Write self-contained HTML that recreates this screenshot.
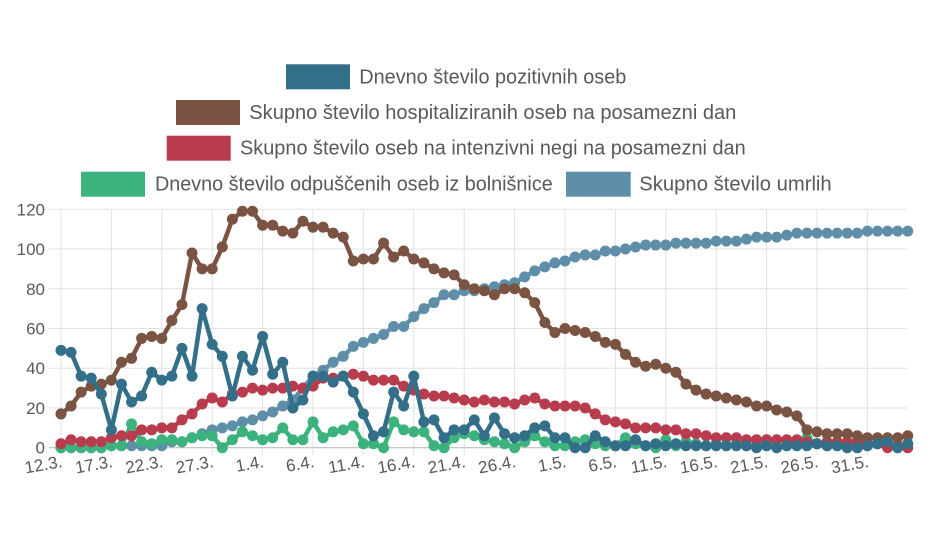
<!DOCTYPE html>
<html>
<head>
<meta charset="utf-8">
<style>
html,body{margin:0;padding:0;background:#fff;}
svg{display:block;}
text{font-family:"Liberation Sans",Arial,sans-serif;fill:#595959;}
.ln{fill:none;stroke-width:4.5;stroke-linejoin:round;stroke-linecap:round;vector-effect:non-scaling-stroke;}
.dt{fill:none;stroke-width:11;stroke-linecap:round;vector-effect:non-scaling-stroke;}
</style>
</head>
<body>
<svg width="940" height="533" viewBox="0 0 940 533" xmlns="http://www.w3.org/2000/svg">
<rect width="940" height="533" fill="#fff"/>

<!-- Legend -->
<rect x="286" y="64.3" width="64" height="25" fill="#346f8a"/>
<text x="359.3" y="83.3" font-size="20" textLength="267" lengthAdjust="spacingAndGlyphs">Dnevno število pozitivnih oseb</text>
<rect x="176" y="100" width="64" height="25" fill="#7b5343"/>
<text x="249.3" y="119.2" font-size="20" textLength="487" lengthAdjust="spacingAndGlyphs">Skupno število hospitaliziranih oseb na posamezni dan</text>
<rect x="166.7" y="135.7" width="64" height="25" fill="#b83c4d"/>
<text x="240" y="154.6" font-size="20" textLength="505.7" lengthAdjust="spacingAndGlyphs">Skupno število oseb na intenzivni negi na posamezni dan</text>
<rect x="81" y="171.7" width="64" height="25" fill="#3cb37c"/>
<text x="155" y="190.3" font-size="20" textLength="397.7" lengthAdjust="spacingAndGlyphs">Dnevno število odpuščenih oseb iz bolnišnice</text>
<rect x="566" y="171.7" width="64.7" height="25" fill="#5e8ea8"/>
<text x="639.3" y="190.3" font-size="20" textLength="192.4" lengthAdjust="spacingAndGlyphs">Skupno število umrlih</text>

<!-- Horizontal grid -->
<g stroke="#e2e2e2" stroke-width="1">
<line x1="49" y1="209.3" x2="907" y2="209.3"/>
<line x1="49" y1="249" x2="907" y2="249"/>
<line x1="49" y1="288.8" x2="907" y2="288.8"/>
<line x1="49" y1="328.5" x2="907" y2="328.5"/>
<line x1="49" y1="368.2" x2="907" y2="368.2"/>
<line x1="49" y1="408" x2="907" y2="408"/>
</g>
<!-- Vertical grid -->
<g stroke="#e2e2e2" stroke-width="1">
<line x1="61" y1="209.3" x2="61" y2="455"/>
<line x1="111.4" y1="209.3" x2="111.4" y2="455"/>
<line x1="161.8" y1="209.3" x2="161.8" y2="455"/>
<line x1="212.2" y1="209.3" x2="212.2" y2="455"/>
<line x1="262.6" y1="209.3" x2="262.6" y2="455"/>
<line x1="313" y1="209.3" x2="313" y2="455"/>
<line x1="363.4" y1="209.3" x2="363.4" y2="455"/>
<line x1="413.8" y1="209.3" x2="413.8" y2="455"/>
<line x1="464.2" y1="209.3" x2="464.2" y2="455"/>
<line x1="514.6" y1="209.3" x2="514.6" y2="455"/>
<line x1="565" y1="209.3" x2="565" y2="455"/>
<line x1="615.4" y1="209.3" x2="615.4" y2="455"/>
<line x1="665.8" y1="209.3" x2="665.8" y2="455"/>
<line x1="716.2" y1="209.3" x2="716.2" y2="455"/>
<line x1="766.6" y1="209.3" x2="766.6" y2="455"/>
<line x1="817" y1="209.3" x2="817" y2="455"/>
<line x1="867.4" y1="209.3" x2="867.4" y2="455"/>
</g>
<line x1="49" y1="447.7" x2="907" y2="447.7" stroke="#b4b4b4" stroke-width="1"/>

<!-- Y labels -->
<g font-size="17" text-anchor="end">
<text x="45" y="215.3">120</text>
<text x="45" y="255">100</text>
<text x="45" y="294.8">80</text>
<text x="45" y="334.5">60</text>
<text x="45" y="374.2">40</text>
<text x="45" y="414">20</text>
<text x="45" y="453.7">0</text>
</g>

<!-- X labels -->
<g font-size="17" text-anchor="end">
<text transform="translate(62,461) rotate(-10)" y="6">12.3.</text>
<text transform="translate(112.4,461) rotate(-10)" y="6">17.3.</text>
<text transform="translate(162.8,461) rotate(-10)" y="6">22.3.</text>
<text transform="translate(213.2,461) rotate(-10)" y="6">27.3.</text>
<text transform="translate(263.6,461) rotate(-10)" y="6">1.4.</text>
<text transform="translate(314,461) rotate(-10)" y="6">6.4.</text>
<text transform="translate(364.4,461) rotate(-10)" y="6">11.4.</text>
<text transform="translate(414.8,461) rotate(-10)" y="6">16.4.</text>
<text transform="translate(465.2,461) rotate(-10)" y="6">21.4.</text>
<text transform="translate(515.6,461) rotate(-10)" y="6">26.4.</text>
<text transform="translate(566,461) rotate(-10)" y="6">1.5.</text>
<text transform="translate(616.4,461) rotate(-10)" y="6">6.5.</text>
<text transform="translate(666.8,461) rotate(-10)" y="6">11.5.</text>
<text transform="translate(717.2,461) rotate(-10)" y="6">16.5.</text>
<text transform="translate(767.6,461) rotate(-10)" y="6">21.5.</text>
<text transform="translate(818,461) rotate(-10)" y="6">26.5.</text>
<text transform="translate(868.4,461) rotate(-10)" y="6">31.5.</text>
</g>

<!-- Series (data coords: x=day, y=value) -->
<g transform="matrix(10.08 0 0 -1.9867 61 447.7)">
<!-- Deaths -->
<g stroke="#5e8ea8">
<polyline class="ln" points="0,0 1,0 2,0 3,0 4,0 5,1 6,1 7,1 8,1 9,1 10,1 11,3 12,3 13,5 14,7 15,9 16,10 17,11 18,13 19,14 20,16 21,18 22,21 23,24 24,30 25,36 26,39 27,43 28,46 29,51 30,53 31,55 32,57 33,61 34,61 35,66 36,70 37,73 38,77 39,77 40,79 41,79 42,80 43,81 44,82 45,83 46,86 47,89 48,91 49,93 50,94 51,96 52,97 53,97 54,99 55,99 56,100 57,101 58,102 59,102 60,102 61,103 62,103 63,103 64,103 65,104 66,104 67,104 68,105 69,106 70,106 71,106 72,107 73,108 74,108 75,108 76,108 77,108 78,108 79,108 80,109 81,109 82,109 83,109 84,109"/>
<path class="dt" d="M0,0h0M1,0h0M2,0h0M3,0h0M4,0h0M5,1h0M6,1h0M7,1h0M8,1h0M9,1h0M10,1h0M11,3h0M12,3h0M13,5h0M14,7h0M15,9h0M16,10h0M17,11h0M18,13h0M19,14h0M20,16h0M21,18h0M22,21h0M23,24h0M24,30h0M25,36h0M26,39h0M27,43h0M28,46h0M29,51h0M30,53h0M31,55h0M32,57h0M33,61h0M34,61h0M35,66h0M36,70h0M37,73h0M38,77h0M39,77h0M40,79h0M41,79h0M42,80h0M43,81h0M44,82h0M45,83h0M46,86h0M47,89h0M48,91h0M49,93h0M50,94h0M51,96h0M52,97h0M53,97h0M54,99h0M55,99h0M56,100h0M57,101h0M58,102h0M59,102h0M60,102h0M61,103h0M62,103h0M63,103h0M64,103h0M65,104h0M66,104h0M67,104h0M68,105h0M69,106h0M70,106h0M71,106h0M72,107h0M73,108h0M74,108h0M75,108h0M76,108h0M77,108h0M78,108h0M79,108h0M80,109h0M81,109h0M82,109h0M83,109h0M84,109h0"/>
</g>
<!-- Discharged -->
<g stroke="#3cb37c">
<polyline class="ln" points="0,0 1,0 2,0 3,0 4,0 5,1 6,1 7,12 8,3 9,2 10,4 11,4 12,3 13,5 14,6 15,6 16,0 17,4 18,8 19,6 20,4 21,5 22,10 23,4 24,4 25,13 26,5 27,8 28,9 29,11 30,2 31,2 32,0 33,13 34,9 35,8 36,8 37,1 38,0 39,5 40,7 41,6 42,4 43,3 44,2 45,0 46,3 47,6 48,3 49,1 50,1 51,3 52,4 53,2 54,1 55,1 56,5 57,2 58,1 59,0 60,4 61,1 62,3 63,2 64,1 65,2 66,1 67,2 68,1 69,1 70,2 71,1 72,1 73,2 74,5 75,2 76,1 77,1 78,2 79,1 80,1 81,2 82,1 83,1 84,2"/>
<path class="dt" d="M0,0h0M1,0h0M2,0h0M3,0h0M4,0h0M5,1h0M6,1h0M7,12h0M8,3h0M9,2h0M10,4h0M11,4h0M12,3h0M13,5h0M14,6h0M15,6h0M16,0h0M17,4h0M18,8h0M19,6h0M20,4h0M21,5h0M22,10h0M23,4h0M24,4h0M25,13h0M26,5h0M27,8h0M28,9h0M29,11h0M30,2h0M31,2h0M32,0h0M33,13h0M34,9h0M35,8h0M36,8h0M37,1h0M38,0h0M39,5h0M40,7h0M41,6h0M42,4h0M43,3h0M44,2h0M45,0h0M46,3h0M47,6h0M48,3h0M49,1h0M50,1h0M51,3h0M52,4h0M53,2h0M54,1h0M55,1h0M56,5h0M57,2h0M58,1h0M59,0h0M60,4h0M61,1h0M62,3h0M63,2h0M64,1h0M65,2h0M66,1h0M67,2h0M68,1h0M69,1h0M70,2h0M71,1h0M72,1h0M73,2h0M74,5h0M75,2h0M76,1h0M77,1h0M78,2h0M79,1h0M80,1h0M81,2h0M82,1h0M83,1h0M84,2h0"/>
</g>
<!-- ICU -->
<g stroke="#b83c4d">
<polyline class="ln" points="0,2 1,4 2,3 3,3 4,3 5,5 6,6 7,6 8,9 9,9 10,10 11,10 12,14 13,17 14,22 15,25 16,23 17,27 18,28 19,30 20,29 21,30 22,30 23,31 24,30 25,31 26,35 27,35 28,36 29,37 30,36 31,34 32,34 33,34 34,31 35,29 36,27 37,26 38,26 39,25 40,24 41,23 42,24 43,23 44,23 45,22 46,24 47,25 48,22 49,21 50,21 51,21 52,20 53,17 54,14 55,13 56,12 57,10 58,10 59,10 60,9 61,9 62,7 63,7 64,6 65,5 66,5 67,5 68,4 69,4 70,4 71,4 72,4 73,4 74,3 75,2 76,3 77,3 78,3 79,3 80,2 81,2 82,0 83,1 84,0"/>
<path class="dt" d="M0,2h0M1,4h0M2,3h0M3,3h0M4,3h0M5,5h0M6,6h0M7,6h0M8,9h0M9,9h0M10,10h0M11,10h0M12,14h0M13,17h0M14,22h0M15,25h0M16,23h0M17,27h0M18,28h0M19,30h0M20,29h0M21,30h0M22,30h0M23,31h0M24,30h0M25,31h0M26,35h0M27,35h0M28,36h0M29,37h0M30,36h0M31,34h0M32,34h0M33,34h0M34,31h0M35,29h0M36,27h0M37,26h0M38,26h0M39,25h0M40,24h0M41,23h0M42,24h0M43,23h0M44,23h0M45,22h0M46,24h0M47,25h0M48,22h0M49,21h0M50,21h0M51,21h0M52,20h0M53,17h0M54,14h0M55,13h0M56,12h0M57,10h0M58,10h0M59,10h0M60,9h0M61,9h0M62,7h0M63,7h0M64,6h0M65,5h0M66,5h0M67,5h0M68,4h0M69,4h0M70,4h0M71,4h0M72,4h0M73,4h0M74,3h0M75,2h0M76,3h0M77,3h0M78,3h0M79,3h0M80,2h0M81,2h0M82,0h0M83,1h0M84,0h0"/>
</g>
<!-- Hospitalized -->
<g stroke="#7b5343">
<polyline class="ln" points="0,17 1,21 2,28 3,31 4,32 5,34 6,43 7,45 8,55 9,56 10,55 11,64 12,72 13,98 14,90 15,90 16,101 17,115 18,119 19,119 20,112 21,112 22,109 23,108 24,114 25,111 26,111 27,108 28,106 29,94 30,95 31,95 32,103 33,96 34,99 35,95 36,93 37,90 38,88 39,87 40,82 41,80 42,79 43,77 44,80 45,80 46,78 47,73 48,63 49,58 50,60 51,59 52,58 53,56 54,53 55,52 56,47 57,43 58,41 59,42 60,40 61,38 62,32 63,29 64,27 65,26 66,25 67,24 68,23 69,21 70,21 71,19 72,18 73,16 74,9 75,8 76,7 77,7 78,7 79,6 80,5 81,5 82,5 83,5 84,6"/>
<path class="dt" d="M0,17h0M1,21h0M2,28h0M3,31h0M4,32h0M5,34h0M6,43h0M7,45h0M8,55h0M9,56h0M10,55h0M11,64h0M12,72h0M13,98h0M14,90h0M15,90h0M16,101h0M17,115h0M18,119h0M19,119h0M20,112h0M21,112h0M22,109h0M23,108h0M24,114h0M25,111h0M26,111h0M27,108h0M28,106h0M29,94h0M30,95h0M31,95h0M32,103h0M33,96h0M34,99h0M35,95h0M36,93h0M37,90h0M38,88h0M39,87h0M40,82h0M41,80h0M42,79h0M43,77h0M44,80h0M45,80h0M46,78h0M47,73h0M48,63h0M49,58h0M50,60h0M51,59h0M52,58h0M53,56h0M54,53h0M55,52h0M56,47h0M57,43h0M58,41h0M59,42h0M60,40h0M61,38h0M62,32h0M63,29h0M64,27h0M65,26h0M66,25h0M67,24h0M68,23h0M69,21h0M70,21h0M71,19h0M72,18h0M73,16h0M74,9h0M75,8h0M76,7h0M77,7h0M78,7h0M79,6h0M80,5h0M81,5h0M82,5h0M83,5h0M84,6h0"/>
</g>
<!-- Positive -->
<g stroke="#346f8a">
<polyline class="ln" points="0,49 1,48 2,36 3,35 4,27 5,9 6,32 7,23 8,26 9,38 10,34 11,36 12,50 13,36 14,70 15,52 16,46 17,26 18,46 19,39 20,56 21,37 22,43 23,20 24,24 25,36 26,36 27,33 28,36 29,28 30,17 31,6 32,8 33,28 34,21 35,36 36,13 37,14 38,5 39,9 40,9 41,14 42,6 43,15 44,7 45,5 46,6 47,10 48,11 49,5 50,5 51,0 52,0 53,6 54,3 55,1 56,1 57,4 58,1 59,2 60,1 61,2 62,1 63,1 64,1 65,1 66,1 67,1 68,1 69,0 70,1 71,0 72,1 73,1 74,1 75,2 76,1 77,1 78,0 79,0 80,1 81,2 82,3 83,0 84,2"/>
<path class="dt" d="M0,49h0M1,48h0M2,36h0M3,35h0M4,27h0M5,9h0M6,32h0M7,23h0M8,26h0M9,38h0M10,34h0M11,36h0M12,50h0M13,36h0M14,70h0M15,52h0M16,46h0M17,26h0M18,46h0M19,39h0M20,56h0M21,37h0M22,43h0M23,20h0M24,24h0M25,36h0M26,36h0M27,33h0M28,36h0M29,28h0M30,17h0M31,6h0M32,8h0M33,28h0M34,21h0M35,36h0M36,13h0M37,14h0M38,5h0M39,9h0M40,9h0M41,14h0M42,6h0M43,15h0M44,7h0M45,5h0M46,6h0M47,10h0M48,11h0M49,5h0M50,5h0M51,0h0M52,0h0M53,6h0M54,3h0M55,1h0M56,1h0M57,4h0M58,1h0M59,2h0M60,1h0M61,2h0M62,1h0M63,1h0M64,1h0M65,1h0M66,1h0M67,1h0M68,1h0M69,0h0M70,1h0M71,0h0M72,1h0M73,1h0M74,1h0M75,2h0M76,1h0M77,1h0M78,0h0M79,0h0M80,1h0M81,2h0M82,3h0M83,0h0M84,2h0"/>
</g>
</g>
</svg>
</body>
</html>
